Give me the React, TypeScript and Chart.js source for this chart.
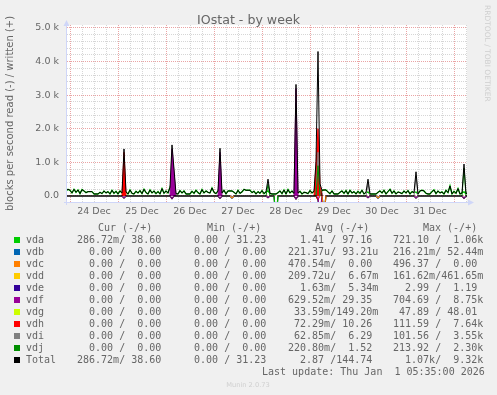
import React, { useEffect, useRef } from "react";
import { Chart, registerables } from "chart.js";

Chart.register(...registerables);

// ---------- text ----------
const chartTitle = "IOstat - by week";
const yAxisTitle = "blocks per second read (-) / written (+)";
const creditText = "RRDTOOL / TOBI OETIKER";
const footerText = "Munin 2.0.73";
const lastUpdateText = "Last update: Thu Jan  1 05:35:00 2026";

const dayLabels = ["24 Dec", "25 Dec", "26 Dec", "27 Dec", "28 Dec", "29 Dec", "30 Dec", "31 Dec"];
const xTickHours = [0, 6, 12, 18, 24, 30, 36, 42, 48, 54, 60, 66, 72, 78, 84, 90, 96, 102, 108, 114, 120, 126, 132, 138, 144, 150, 156, 162, 168, 174, 180, 186, 192, 198];
const yTickValues = [0, 200, 400, 600, 800, 1000, 1200, 1400, 1600, 1800, 2000, 2200, 2400, 2600, 2800, 3000, 3200, 3400, 3600, 3800, 4000, 4200, 4400, 4600, 4800, 5000];

// ---------- legend table ----------
const legendHeaders = ["Cur (-/+)", "Min (-/+)", "Avg (-/+)", "Max (-/+)"];
const deviceNames = ["vda", "vdb", "vdc", "vdd", "vde", "vdf", "vdg", "vdh", "vdi", "vdj", "Total"];
const deviceColors = ["#00CC00", "#0066B3", "#FF8000", "#FFCC00", "#330099", "#990099", "#CCFF00", "#FF0000", "#808080", "#008F00", "#000000"];
const legendCur = ["286.72m/ 38.60 ", "  0.00 /  0.00 ", "  0.00 /  0.00 ", "  0.00 /  0.00 ", "  0.00 /  0.00 ", "  0.00 /  0.00 ", "  0.00 /  0.00 ", "  0.00 /  0.00 ", "  0.00 /  0.00 ", "  0.00 /  0.00 ", "286.72m/ 38.60 "];
const legendMin = ["  0.00 / 31.23 ", "  0.00 /  0.00 ", "  0.00 /  0.00 ", "  0.00 /  0.00 ", "  0.00 /  0.00 ", "  0.00 /  0.00 ", "  0.00 /  0.00 ", "  0.00 /  0.00 ", "  0.00 /  0.00 ", "  0.00 /  0.00 ", "  0.00 / 31.23 "];
const legendAvg = ["  1.41 / 97.16 ", "221.37u/ 93.21u", "470.54m/  0.00 ", "209.72u/  6.67m", "  1.63m/  5.34m", "629.52m/ 29.35 ", " 33.59m/149.20m", " 72.29m/ 10.26 ", " 62.85m/  6.29 ", "220.80m/  1.52 ", "  2.87 /144.74 "];
const legendMax = ["721.10 /  1.06k", "216.21m/ 52.44m", "496.37 /  0.00 ", "161.62m/461.65m", "  2.99 /  1.19 ", "704.69 /  8.75k", " 47.89 / 48.01 ", "111.59 /  7.64k", "101.56 /  3.55k", "213.92 /  2.30k", "  1.07k/  9.32k"];

// ---------- data (hourly samples, first sample at hour -2 relative to 24 Dec 00:00) ----------
const firstHour = -2;
const vdaWriteDec23 = [150, 200];
const vdaWriteDec24 = [170, 90, 200, 110, 180, 70, 190, 150, 100, 130, 130, 130, 60, 60, 60, 110, 70, 150, 90, 130, 60, 170, 80, 140];
const vdaWriteDec25 = [60, 150, 90, 100, 120, 60, 180, 80, 60, 140, 90, 160, 70, 200, 100, 60, 180, 90, 150, 70, 130, 60, 220, 80];
const vdaWriteDec26 = [150, 90, 260, 120, 100, 70, 60, 160, 90, 150, 60, 60, 60, 140, 80, 170, 100, 60, 190, 90, 150, 110, 90, 240];
const vdaWriteDec27 = [110, 70, 150, 120, 90, 170, 60, 150, 150, 150, 110, 60, 170, 80, 120, 200, 170, 170, 170, 100, 140, 60, 130, 80];
const vdaWriteDec28 = [160, 70, 120, 150, 80, 60, 60, 60, 100, 150, 70, 180, 60, 190, 90, 150, 80, 120, 90, 140, 60, 110, 100, 70];
const vdaWriteDec29 = [160, 90, 140, 120, 100, 60, 170, 180, 180, 120, 70, 150, 60, 60, 60, 110, 150, 80, 160, 60, 170, 90, 130, 60];
const vdaWriteDec30 = [140, 80, 170, 60, 110, 120, 60, 60, 60, 60, 110, 150, 90, 170, 60, 130, 200, 80, 150, 60, 120, 100, 70, 150];
const vdaWriteDec31 = [90, 160, 60, 130, 100, 120, 60, 150, 170, 150, 80, 60, 60, 130, 180, 70, 150, 90, 120, 60, 170, 100, 300, 60];
const vdaWriteJan01 = [140, 80, 220, 60, 90, 120, 70, 100];

// sparse spikes (hour -> blocks/s) for the other devices
const vdfWriteHours = [51, 52, 75, 113];
const vdfWriteValues = [1400, 700, 1300, 3200];
const vdhWriteHours = [27, 123, 124, 125];
const vdhWriteValues = [1300, 900, 2000, 300];
const vdiWriteHours = [124, 149, 173];
const vdiWriteValues = [1300, 380, 600];
const vdjWriteHours = [99, 124, 197];
const vdjWriteValues = [350, 900, 830];

const vdaReadHours = [103];
const vdaReadValues = [721];
const vdcReadHours = [81, 127, 154];
const vdcReadValues = [60, 496, 60];
const vdfReadHours = [27, 51, 75, 99, 113, 125, 149, 173, 197];
const vdfReadValues = [60, 80, 70, 50, 90, 705, 50, 60, 70];
const vdhReadHours = [124];
const vdhReadValues = [112];

// ---------- build ----------
const vdaWrite = [
  ...vdaWriteDec23, ...vdaWriteDec24, ...vdaWriteDec25, ...vdaWriteDec26, ...vdaWriteDec27,
  ...vdaWriteDec28, ...vdaWriteDec29, ...vdaWriteDec30, ...vdaWriteDec31, ...vdaWriteJan01,
];
const hours = vdaWrite.map((_, i) => firstHour + i);
const expand = (hrs: number[], vals: number[]) =>
  hours.map((h) => {
    const k = hrs.indexOf(h);
    return k >= 0 ? vals[k] : 0;
  });

const writes: Record<string, number[]> = {
  vda: vdaWrite,
  vdf: expand(vdfWriteHours, vdfWriteValues),
  vdh: expand(vdhWriteHours, vdhWriteValues),
  vdi: expand(vdiWriteHours, vdiWriteValues),
  vdj: expand(vdjWriteHours, vdjWriteValues),
};
const reads: Record<string, number[]> = {
  vda: expand(vdaReadHours, vdaReadValues),
  vdc: expand(vdcReadHours, vdcReadValues),
  vdf: expand(vdfReadHours, vdfReadValues),
  vdh: expand(vdhReadHours, vdhReadValues),
};
const totalWrite = hours.map((_, i) => Object.values(writes).reduce((s, a) => s + a[i], 0));
const totalRead = hours.map((_, i) => Object.values(reads).reduce((s, a) => s + a[i], 0));

const FONT_COLOR = "#666666";
const AXIS_COLOR = "#CFD6F8";
const MAJOR_GRID = "#eaa4a4";
const MINOR_GRID = "#d6d6d6";

function colorOf(name: string) {
  return deviceColors[deviceNames.indexOf(name)];
}

// sparse: only draw segments next to non-zero samples (keeps the zero line black)
function line(label: string, values: number[], sign: number, color: string, order: number, fill = false, width = 1, sparse = false) {
  return {
    label,
    data: hours.map((h, i) => {
      const near = values[i] !== 0 || (i > 0 && values[i - 1] !== 0) || (i < values.length - 1 && values[i + 1] !== 0);
      return { x: h, y: sparse && !near ? null : sign * values[i] };
    }),
    borderColor: color,
    backgroundColor: color,
    borderWidth: width,
    pointRadius: 0,
    tension: 0,
    spanGaps: false,
    fill: fill ? "origin" : false,
    order,
  };
}

const bgPlugin = {
  id: "muninBg",
  beforeDraw(chart: any) {
    const { ctx, chartArea } = chart;
    ctx.save();
    ctx.fillStyle = "#F0F0F0";
    ctx.fillRect(0, 0, chart.width, chart.height);
    ctx.fillStyle = "#FFFFFF";
    ctx.fillRect(chartArea.left, chartArea.top, chartArea.right - chartArea.left, chartArea.bottom - chartArea.top);
    ctx.restore();
  },
};

const decorPlugin = {
  id: "muninDecor",
  afterDraw(chart: any) {
    const { ctx, chartArea } = chart;
    const L = chartArea.left;
    const B = chartArea.bottom;
    ctx.save();
    // axes + arrows
    ctx.strokeStyle = AXIS_COLOR;
    ctx.fillStyle = AXIS_COLOR;
    ctx.lineWidth = 1;
    ctx.beginPath();
    ctx.moveTo(L - 0.5, B + 3);
    ctx.lineTo(L - 0.5, chartArea.top - 1);
    ctx.moveTo(L - 3, B + 0.5);
    ctx.lineTo(chartArea.right + 3, B + 0.5);
    ctx.stroke();
    ctx.beginPath();
    ctx.moveTo(L - 0.5, chartArea.top - 5);
    ctx.lineTo(L - 3.5, chartArea.top + 1);
    ctx.lineTo(L + 2.5, chartArea.top + 1);
    ctx.closePath();
    ctx.fill();
    ctx.beginPath();
    ctx.moveTo(chartArea.right + 7, B + 0.5);
    ctx.lineTo(chartArea.right + 1, B - 2.5);
    ctx.lineTo(chartArea.right + 1, B + 3.5);
    ctx.closePath();
    ctx.fill();

    // title
    ctx.fillStyle = FONT_COLOR;
    ctx.textBaseline = "alphabetic";
    ctx.textAlign = "center";
    ctx.font = '12.6px "DejaVu Sans"';
    ctx.fillText(chartTitle, 248.5, 24);

    // credit (vertical)
    ctx.save();
    ctx.fillStyle = "#cfcfcf";
    ctx.font = '7.5px "DejaVu Sans"';
    ctx.textAlign = "left";
    ctx.translate(485, 5);
    ctx.rotate(Math.PI / 2);
    ctx.fillText(creditText, 0, 0);
    ctx.restore();

    // legend
    ctx.font = '10px "DejaVu Sans Mono"';
    ctx.textAlign = "left";
    ctx.fillStyle = FONT_COLOR;
    const headerX = [98, 207, 315, 423];
    legendHeaders.forEach((h, i) => ctx.fillText(h, headerX[i], 231));
    const cellX = [77, 182, 288, 393];
    const cols = [legendCur, legendMin, legendAvg, legendMax];
    deviceNames.forEach((name, r) => {
      const y = 243 + r * 12;
      ctx.fillStyle = deviceColors[r];
      ctx.fillRect(14, y - 6, 6, 6);
      ctx.fillStyle = FONT_COLOR;
      ctx.fillText(name, 26, y);
      cols.forEach((col, c) => ctx.fillText(col[r], cellX[c], y));
    });
    ctx.fillText(lastUpdateText, 262, 375);

    // footer
    ctx.fillStyle = "#cfcfcf";
    ctx.textAlign = "center";
    ctx.font = '6.7px "DejaVu Sans"';
    ctx.fillText(footerText, 248, 387);
    ctx.restore();
  },
};

export default function App() {
  const ref = useRef<HTMLCanvasElement>(null);
  useEffect(() => {
    const canvas = ref.current;
    if (!canvas) return;
    const datasets: any[] = [
      line("Total", totalWrite, 1, "#000000", 0),
      line("vdc read", reads.vdc, -1, colorOf("vdc"), 1, false, 1, true),
      line("vdf read", reads.vdf, -1, colorOf("vdf"), 1, false, 1, true),
      line("vda read", reads.vda, -1, colorOf("vda"), 1, false, 1, true),
      line("vdh read", reads.vdh, -1, colorOf("vdh"), 1, false, 1, true),
      line("Total read", totalRead, -1, "#000000", 2, false, 1.3),
      line("vdj", writes.vdj, 1, colorOf("vdj"), 3, false, 1, true),
      line("vdi", writes.vdi, 1, colorOf("vdi"), 3, false, 1, true),
      line("vdh", writes.vdh, 1, colorOf("vdh"), 3, true, 1, true),
      line("vdf", writes.vdf, 1, colorOf("vdf"), 3, true, 1, true),
      line("vda", writes.vda, 1, colorOf("vda"), 4, false, 1.4),
    ];
    const chart = new Chart(canvas, {
      type: "line",
      data: { datasets },
      plugins: [bgPlugin, decorPlugin],
      options: {
        animation: false,
        responsive: false,
        devicePixelRatio: 1,
        layout: { padding: { left: 0, top: 25, right: 30, bottom: 173 } },
        plugins: { legend: { display: false }, tooltip: { enabled: false }, title: { display: false } },
        scales: {
          x: {
            type: "linear",
            min: -1.5,
            max: 198.5,
            afterFit: (s: any) => {
              s.height = 20;
            },
            afterBuildTicks: (s: any) => {
              s.ticks = xTickHours.map((v) => ({ value: v }));
            },
            grid: {
              drawTicks: false,
              lineWidth: 1,
              color: (c: any) => (c.tick && c.tick.value % 24 === 0 ? MAJOR_GRID : MINOR_GRID),
            },
            border: { display: false, dash: [1, 1] },
            ticks: {
              autoSkip: false,
              maxRotation: 0,
              padding: 4,
              color: FONT_COLOR,
              font: { family: "DejaVu Sans", size: 9.5 },
              callback: (v: any) => (v % 24 === 12 ? dayLabels[(v - 12) / 24] : ""),
            },
          },
          y: {
            type: "linear",
            min: -179,
            max: 5089,
            afterFit: (s: any) => {
              s.width = 67;
            },
            afterBuildTicks: (s: any) => {
              s.ticks = yTickValues.map((v) => ({ value: v }));
            },
            grid: {
              drawTicks: false,
              lineWidth: 1,
              color: (c: any) => (c.tick && c.tick.value % 1000 === 0 ? MAJOR_GRID : MINOR_GRID),
            },
            border: { display: false, dash: [1, 1] },
            title: {
              display: true,
              text: yAxisTitle,
              color: FONT_COLOR,
              font: { family: "DejaVu Sans", size: 10 },
              padding: { top: 4, bottom: 4 },
            },
            ticks: {
              autoSkip: false,
              padding: 8,
              color: FONT_COLOR,
              font: { family: "DejaVu Sans", size: 9.5 },
              callback: (v: any) => (v % 1000 === 0 ? (v === 0 ? "0.0" : (v / 1000).toFixed(1) + " k") : ""),
            },
          },
        },
      },
    } as any);
    return () => chart.destroy();
  }, []);
  return (
    <div style={{ position: "fixed", left: 0, top: 0, width: 497, height: 395, background: "#F0F0F0" }}>
      <canvas ref={ref} width={497} height={395} style={{ display: "block", width: 497, height: 395 }} />
    </div>
  );
}
